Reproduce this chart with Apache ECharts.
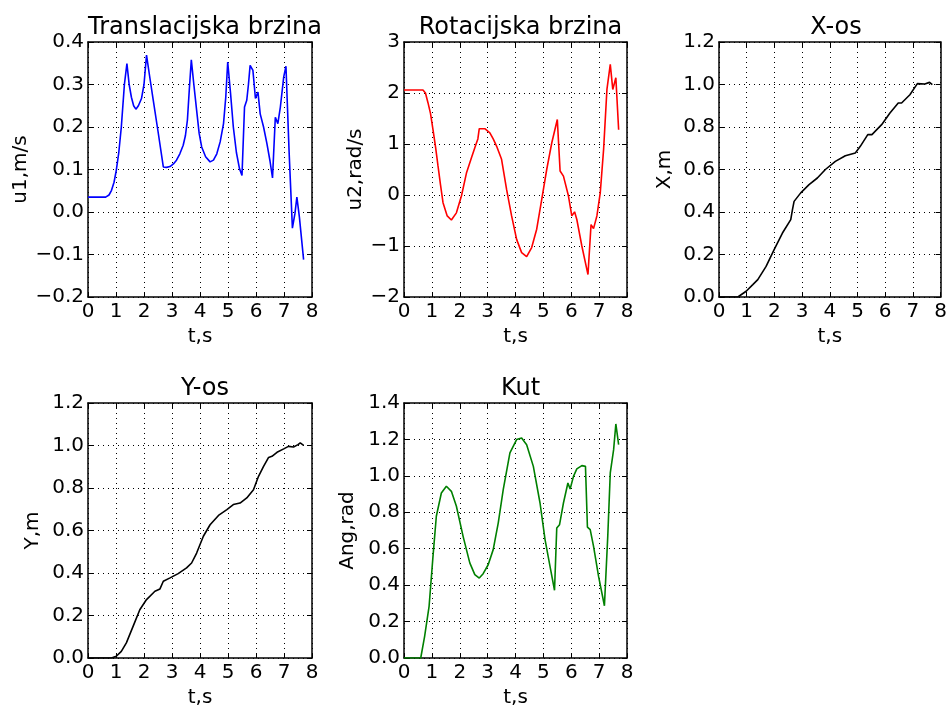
<!DOCTYPE html>
<html>
<head>
<meta charset="utf-8">
<script src="https://cdn.jsdelivr.net/npm/echarts@6/dist/echarts.min.js"></script>
<style>
html,body{margin:0;padding:0;background:#fff;}
#chart{width:950px;height:713px;}
</style>
</head>
<body>
<div id="chart"></div>
<script>
// ---- data ----
const titles = ['Translacijska brzina', 'Rotacijska brzina', 'X-os', 'Y-os', 'Kut'];
const yNames = ['u1,m/s', 'u2,rad/s', 'X,m', 'Y,m', 'Ang,rad'];
const xName = 't,s';
const xRange = [0, 8, 1];
const yRanges = [[-0.2, 0.4, 0.1], [-2, 3, 1], [0, 1.2, 0.2], [0, 1.2, 0.2], [0, 1.4, 0.2]];
const yDecimals = [1, 0, 1, 1, 1];
const colors = ['#0000ff', '#ff0000', '#000000', '#000000', '#008000'];

const tU1 = [0, 0.63, 0.75, 0.84, 0.93, 1.01, 1.1, 1.19, 1.3, 1.39, 1.47, 1.55, 1.63, 1.71, 1.8, 1.91, 2.0, 2.09, 2.2, 2.33, 2.5, 2.69, 2.8, 2.93, 3.05, 3.16, 3.28, 3.4, 3.48, 3.55, 3.62, 3.69, 3.78, 3.88, 3.97, 4.06, 4.2, 4.36, 4.48, 4.6, 4.72, 4.84, 4.92, 4.99, 5.09, 5.19, 5.3, 5.41, 5.5, 5.59, 5.67, 5.73, 5.79, 5.89, 5.98, 6.07, 6.15, 6.27, 6.39, 6.5, 6.59, 6.69, 6.78, 6.87, 6.99, 7.07, 7.18, 7.3, 7.39, 7.46, 7.55, 7.7];
const u1Vals = [0.035, 0.035, 0.04, 0.051, 0.07, 0.098, 0.14, 0.2, 0.3, 0.349, 0.3, 0.27, 0.25, 0.242, 0.25, 0.267, 0.3, 0.369, 0.32, 0.263, 0.19, 0.106, 0.105, 0.107, 0.113, 0.122, 0.137, 0.157, 0.18, 0.216, 0.29, 0.358, 0.3, 0.239, 0.185, 0.153, 0.13, 0.118, 0.122, 0.137, 0.165, 0.208, 0.27, 0.353, 0.28, 0.2, 0.14, 0.102, 0.086, 0.247, 0.263, 0.3, 0.345, 0.333, 0.267, 0.282, 0.231, 0.2, 0.161, 0.12, 0.08, 0.223, 0.208, 0.247, 0.318, 0.343, 0.145, -0.038, -0.004, 0.035, -0.012, -0.112];

const tU2 = [0, 0.68, 0.77, 0.86, 0.95, 1.04, 1.13, 1.22, 1.31, 1.4, 1.55, 1.7, 1.88, 2.06, 2.24, 2.42, 2.58, 2.65, 2.7, 2.9, 3.08, 3.2, 3.32, 3.5, 3.68, 3.86, 4.04, 4.22, 4.4, 4.58, 4.76, 4.94, 5.12, 5.3, 5.5, 5.6, 5.72, 5.9, 6.02, 6.12, 6.2, 6.38, 6.6, 6.71, 6.8, 6.92, 7.04, 7.16, 7.28, 7.4, 7.49, 7.6, 7.7];
const u2Vals = [2.06, 2.06, 2.0, 1.81, 1.6, 1.28, 0.95, 0.57, 0.2, -0.15, -0.41, -0.49, -0.35, -0.02, 0.43, 0.73, 0.99, 1.1, 1.30, 1.30, 1.22, 1.1, 0.96, 0.70, 0.11, -0.41, -0.87, -1.13, -1.21, -1.03, -0.67, -0.09, 0.5, 1.02, 1.48, 0.47, 0.37, -0.02, -0.41, -0.33, -0.48, -1.0, -1.56, -0.58, -0.66, -0.41, 0.04, 0.89, 2.07, 2.56, 2.07, 2.3, 1.28];

const tX = [0, 0.68, 0.98, 1.22, 1.4, 1.7, 1.99, 2.29, 2.59, 2.65, 2.71, 2.95, 3.25, 3.55, 3.84, 4.2, 4.56, 4.92, 5.1, 5.37, 5.52, 5.87, 6.17, 6.47, 6.59, 6.89, 7.16, 7.43, 7.6, 7.7];
const xVals = [0, 0, 0.027, 0.058, 0.082, 0.144, 0.223, 0.301, 0.364, 0.41, 0.45, 0.49, 0.529, 0.56, 0.6, 0.638, 0.665, 0.678, 0.709, 0.764, 0.764, 0.811, 0.866, 0.913, 0.913, 0.952, 1.004, 1.002, 1.01, 0.999];

const tY = [0, 0.84, 1.01, 1.19, 1.37, 1.61, 1.85, 2.09, 2.39, 2.57, 2.69, 2.93, 3.22, 3.52, 3.7, 3.88, 4.12, 4.36, 4.66, 4.96, 5.19, 5.43, 5.67, 5.91, 6.09, 6.27, 6.45, 6.57, 6.75, 6.99, 7.16, 7.34, 7.5, 7.58, 7.7];
const yVals = [0, 0, 0.008, 0.031, 0.071, 0.149, 0.227, 0.275, 0.314, 0.325, 0.361, 0.377, 0.397, 0.424, 0.447, 0.494, 0.573, 0.627, 0.671, 0.698, 0.722, 0.729, 0.753, 0.792, 0.855, 0.902, 0.944, 0.949, 0.968, 0.984, 0.996, 0.993, 1.004, 1.012, 1.001];

const tAng = [0, 0.6, 0.74, 0.9, 1.04, 1.16, 1.34, 1.52, 1.7, 1.88, 2.12, 2.36, 2.54, 2.7, 2.84, 3.02, 3.2, 3.38, 3.56, 3.8, 4.04, 4.22, 4.4, 4.64, 4.88, 5.06, 5.26, 5.4, 5.48, 5.58, 5.72, 5.88, 5.96, 6.08, 6.2, 6.38, 6.51, 6.58, 6.68, 6.8, 6.98, 7.19, 7.31, 7.4, 7.52, 7.6, 7.7];
const angVals = [0, 0, 0.119, 0.284, 0.558, 0.778, 0.906, 0.943, 0.915, 0.833, 0.668, 0.522, 0.458, 0.439, 0.463, 0.512, 0.595, 0.741, 0.924, 1.126, 1.199, 1.208, 1.171, 1.052, 0.851, 0.65, 0.485, 0.372, 0.714, 0.732, 0.851, 0.961, 0.928, 0.997, 1.038, 1.056, 1.052, 0.719, 0.705, 0.613, 0.448, 0.287, 0.668, 1.016, 1.144, 1.285, 1.171];

const seriesT = [tU1, tU2, tX, tY, tAng];
const seriesV = [u1Vals, u2Vals, xVals, yVals, angVals];

// ---- layout ----
const gridBoxes = [
  {left: 88, top: 42, width: 224, height: 255},
  {left: 404, top: 42, width: 223, height: 255},
  {left: 719, top: 42, width: 224, height: 255},
  {left: 88, top: 403, width: 224, height: 255},
  {left: 404, top: 403, width: 223, height: 255}
];
const yNameGaps = [57, 38, 44, 45, 46];
const FONT = 'DejaVu Sans';

function fmt(v, d) {
  let s = v.toFixed(d);
  if (parseFloat(s) === 0) s = (0).toFixed(d);
  return s.replace('-', '\u2212');
}

const grids = [], xAxes = [], yAxes = [], series = [], titleArr = [];
const lineStyleAxis = {color: '#000', width: 1.5};
const splitStyle = {show: true, lineStyle: {color: '#000', width: 1, type: [1, 4]}};

gridBoxes.forEach((g, i) => {
  grids.push(Object.assign({containLabel: false}, g));
  const [ymin, ymax, yint] = yRanges[i];
  xAxes.push({
    type: 'value', gridIndex: i, position: 'bottom', min: xRange[0], max: xRange[1], interval: xRange[2],
    axisLine: {show: true, onZero: false, lineStyle: lineStyleAxis},
    axisTick: {show: true, inside: true, length: 5, lineStyle: {color: '#000', width: 1}},
    axisLabel: {show: true, color: '#000', fontFamily: FONT, fontSize: 20, margin: 5},
    splitLine: splitStyle,
    name: xName, nameLocation: 'middle', nameGap: 30,
    nameTextStyle: {color: '#000', fontFamily: FONT, fontSize: 20}
  });
  xAxes.push({
    type: 'value', gridIndex: i, position: 'top', min: xRange[0], max: xRange[1], interval: xRange[2],
    axisLine: {show: true, onZero: false, lineStyle: lineStyleAxis},
    axisTick: {show: true, inside: true, length: 5, lineStyle: {color: '#000', width: 1}},
    axisLabel: {show: false}, splitLine: {show: false}
  });
  yAxes.push({
    type: 'value', gridIndex: i, position: 'left', min: ymin, max: ymax, interval: yint,
    axisLine: {show: true, onZero: false, lineStyle: lineStyleAxis},
    axisTick: {show: true, inside: true, length: 5, lineStyle: {color: '#000', width: 1}},
    axisLabel: {show: true, color: '#000', fontFamily: FONT, fontSize: 20, margin: 4,
      formatter: v => fmt(v, yDecimals[i])},
    splitLine: splitStyle,
    name: yNames[i], nameLocation: 'middle', nameGap: yNameGaps[i], nameRotate: 90,
    nameTextStyle: {color: '#000', fontFamily: FONT, fontSize: 20}
  });
  yAxes.push({
    type: 'value', gridIndex: i, position: 'right', min: ymin, max: ymax, interval: yint,
    axisLine: {show: true, onZero: false, lineStyle: lineStyleAxis},
    axisTick: {show: true, inside: true, length: 5, lineStyle: {color: '#000', width: 1}},
    axisLabel: {show: false}, splitLine: {show: false}
  });
  series.push({
    type: 'line', xAxisIndex: 2 * i, yAxisIndex: 2 * i,
    data: seriesT[i].map((t, k) => [t, seriesV[i][k]]),
    showSymbol: false, symbol: 'none',
    lineStyle: {color: colors[i], width: 1.6},
    z: 3
  });
  titleArr.push({
    text: titles[i], left: g.left + g.width / 2, textAlign: 'center',
    top: g.top - 31,
    textStyle: {color: '#000', fontFamily: FONT, fontSize: 24, fontWeight: 'normal'}
  });
});

const chart = echarts.init(document.getElementById('chart'), null, {renderer: 'canvas'});
chart.setOption({
  animation: false,
  backgroundColor: '#fff',
  title: titleArr,
  grid: grids,
  xAxis: xAxes,
  yAxis: yAxes,
  series: series
});
</script>
</body>
</html>
